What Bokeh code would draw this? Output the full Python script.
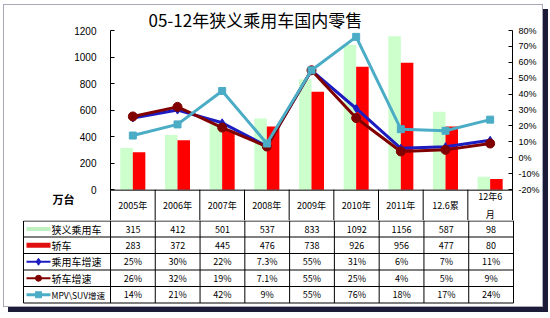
from bokeh.plotting import figure
from bokeh.layouts import column
from bokeh.models import Range1d, LinearAxis, FixedTicker, PrintfTickFormatter
from bokeh.core.properties import value
from bokeh.embed import file_html
from bokeh.resources import INLINE

# ---------------- data ----------------
title_text = "05-12年狭义乘用车国内零售"
unit_text = "万台"
categories = ["2005年", "2006年", "2007年", "2008年", "2009年", "2010年", "2011年", "12.6累", "12年6\n月"]
narrow_pv = [315, 412, 501, 537, 833, 1092, 1156, 587, 98]
sedan = [283, 372, 445, 476, 738, 926, 956, 477, 80]
pv_growth = [25, 30, 22, 7.3, 55, 31, 6, 7, 11]
sedan_growth = [26, 32, 19, 7.1, 55, 25, 4, 5, 9]
mpv_suv_growth = [14, 21, 42, 9, 55, 76, 18, 17, 24]
series_names = ["狭义乘用车", "轿车", "乘用车增速", "轿车增速", "MPV\\SUV增速"]
left_ticks = [0, 200, 400, 600, 800, 1000, 1200]
right_ticks = [-20, -10, 0, 10, 20, 30, 40, 50, 60, 70, 80]

# ---------------- styles / geometry (canvas pixels) ----------------
GREEN = "#CCFFCC"
RED = "#FF0000"
BLUE = "#1C1CC0"
MAROON = "#800000"
TEAL = "#4BACC6"
CJK = "Noto Sans CJK SC"

BOX_L, BOX_T, BOX_R, BOX_B = 4, 5, 542, 306   # inside of the outer chart box
L, R, T, B = 110, 513, 29, 189                 # plot area (value axes)
HEAD_B = 220                                    # bottom of the header row of the data table
n = len(categories)
centers = [i + 0.5 for i in range(n)]


def X(px):
    return (px - L) / (R - L) * n


def YL(py):
    return left_ticks[0] + (B - py) * (left_ticks[-1] - left_ticks[0]) / (B - T)


def YR(py):
    return right_ticks[0] + (B - py) * (right_ticks[-1] - right_ticks[0]) / (B - T)


# ---------------- main chart (with the header row of the table) ----------------
p = figure(width=BOX_R - BOX_L, height=HEAD_B - BOX_T,
           x_range=Range1d(0, n), y_range=Range1d(YL(HEAD_B), left_ticks[-1]),
           output_backend="svg", toolbar_location=None, title=title_text,
           min_border_left=L - BOX_L, min_border_right=BOX_R - R,
           min_border_top=T - BOX_T, min_border_bottom=0, frame_align=False,
           background_fill_color="white", border_fill_color="white", outline_line_color=None)
p.title.align = "left"
p.title.offset = 148 - L
p.title.standoff = -2
p.title.text_font = CJK
p.title.text_font_size = "17px"
p.title.text_font_style = "normal"
p.title.text_color = "black"
p.extra_y_ranges = {"pct": Range1d(YR(HEAD_B), right_ticks[-1])}
p.xgrid.visible = False
p.ygrid.visible = False
p.xaxis.visible = False

ya = p.yaxis[0]
ya.ticker = FixedTicker(ticks=left_ticks)
ya.major_tick_in = 4
ya.major_tick_out = 0
ya.minor_tick_line_color = None
ya.major_label_standoff = 14
ya.major_label_text_font = "Liberation Sans"
ya.major_label_text_font_size = "10px"
ya.major_label_text_color = "black"
ya.axis_line_color = "black"
ya.major_tick_line_color = "black"

# unit label sits beside the value axis, at the height of the table header
unit_tick = round(YL(198))
ua = LinearAxis(ticker=FixedTicker(ticks=[unit_tick]), major_label_overrides={unit_tick: unit_text})
ua.axis_line_color = None
ua.major_tick_line_color = None
ua.minor_tick_line_color = None
ua.major_tick_in = 0
ua.major_tick_out = 0
ua.major_label_standoff = -3
ua.major_label_text_font = CJK
ua.major_label_text_font_size = "11px"
ua.major_label_text_font_style = "bold"
ua.major_label_text_color = "black"
p.add_layout(ua, "left")

ra = LinearAxis(y_range_name="pct", ticker=FixedTicker(ticks=right_ticks),
                formatter=PrintfTickFormatter(format="%d%%"))
ra.major_tick_in = 4
ra.major_tick_out = 0
ra.minor_tick_line_color = None
ra.major_label_standoff = 6
ra.major_label_text_font = "Liberation Sans"
ra.major_label_text_font_size = "9px"
ra.major_label_text_color = "black"
ra.axis_line_color = "black"
ra.major_tick_line_color = "black"
p.add_layout(ra, "right")

bw = 0.28
p.vbar(x=[c - bw / 2 for c in centers], top=narrow_pv, bottom=0, width=bw,
       fill_color=GREEN, line_color=None)
p.vbar(x=[c + bw / 2 for c in centers], top=sedan, bottom=0, width=bw,
       fill_color=RED, line_color=None)

p.line(centers, pv_growth, y_range_name="pct", line_color=BLUE, line_width=3)
p.scatter(centers, pv_growth, y_range_name="pct", marker="diamond", size=8,
          fill_color=BLUE, line_color=BLUE)
p.line(centers, sedan_growth, y_range_name="pct", line_color=MAROON, line_width=3)
p.scatter(centers, sedan_growth, y_range_name="pct", marker="circle", size=9,
          fill_color=MAROON, line_color=MAROON)
p.line(centers, mpv_suv_growth, y_range_name="pct", line_color=TEAL, line_width=3)
p.scatter(centers, mpv_suv_growth, y_range_name="pct", marker="square", size=7,
          fill_color=TEAL, line_color=TEAL)

# header row: category axis line, separators and category names
p.segment(x0=[0], y0=[YL(B + 0.5)], x1=[n], y1=[YL(B + 0.5)], line_color="black", line_width=1)
p.segment(x0=list(range(1, n)), y0=[YL(B)] * (n - 1), x1=list(range(1, n)), y1=[YL(HEAD_B)] * (n - 1),
          line_color="black", line_width=1)
p.text(x=centers, y=[YL(205)] * n, text=categories, text_align="center", text_baseline="middle",
       text_font=value(CJK), text_font_size="9px", text_color="black", text_line_height=1.35)

# ---------------- data table rows ----------------
t = figure(width=BOX_R - BOX_L, height=BOX_B - HEAD_B,
           x_range=Range1d(X(BOX_L), X(BOX_R)), y_range=Range1d(BOX_B, HEAD_B),
           x_axis_type=None, y_axis_type=None, frame_align=False,
           output_backend="svg", toolbar_location=None,
           min_border_left=0, min_border_right=0, min_border_top=0, min_border_bottom=0,
           background_fill_color="white", border_fill_color="white", outline_line_color=None)
t.xgrid.visible = False
t.ygrid.visible = False

row_lines = [220.5, 236.5, 253, 269.5, 286, 302.5]
legend_left = 23
t.segment(x0=list(range(n + 1)), y0=[HEAD_B] * (n + 1), x1=list(range(n + 1)), y1=[row_lines[-1]] * (n + 1),
          line_color="black", line_width=1)
t.segment(x0=[X(legend_left)], y0=[row_lines[0]], x1=[X(legend_left)], y1=[row_lines[-1]],
          line_color="black", line_width=1)
t.segment(x0=[X(legend_left)] * len(row_lines), y0=row_lines, x1=[n] * len(row_lines), y1=row_lines,
          line_color="black", line_width=1)


def fmt_pct(v):
    return f"{v:g}%"


row_values = [
    [str(v) for v in narrow_pv],
    [str(v) for v in sedan],
    [fmt_pct(v) for v in pv_growth],
    [fmt_pct(v) for v in sedan_growth],
    [fmt_pct(v) for v in mpv_suv_growth],
]
row_centers = [(row_lines[i] + row_lines[i + 1]) / 2 for i in range(len(row_values))]
for vals, rc in zip(row_values, row_centers):
    t.text(x=centers, y=[rc] * n, text=vals, text_align="center", text_baseline="middle",
           text_font=value(CJK), text_font_size="9px", text_color="black")

label_sizes = ["10px", "10px", "10px", "10px", "8.5px"]
for name, rc, fs in zip(series_names, row_centers, label_sizes):
    t.text(x=[X(51)], y=[rc], text=[name], text_align="left", text_baseline="middle",
           text_font=value(CJK), text_font_size=fs, text_color="black")

kx0, kx1, kc = X(26), X(50), X(38)
rc = row_centers
t.segment(x0=[kx0], y0=[rc[0]], x1=[kx1], y1=[rc[0]], line_color="#BFF0BF", line_width=4)
t.segment(x0=[kx0], y0=[rc[1]], x1=[kx1], y1=[rc[1]], line_color="#E01010", line_width=5)
t.segment(x0=[kx0], y0=[rc[2]], x1=[kx1], y1=[rc[2]], line_color=BLUE, line_width=2)
t.scatter(x=[kc], y=[rc[2]], marker="diamond", size=7, fill_color=BLUE, line_color=BLUE)
t.segment(x0=[kx0], y0=[rc[3]], x1=[kx1], y1=[rc[3]], line_color=MAROON, line_width=2)
t.scatter(x=[kc], y=[rc[3]], marker="circle", size=6, fill_color=MAROON, line_color=MAROON)
t.segment(x0=[kx0], y0=[rc[4]], x1=[kx1], y1=[rc[4]], line_color=TEAL, line_width=3)
t.scatter(x=[kc], y=[rc[4]], marker="square", size=6, fill_color=TEAL, line_color=TEAL)

layout = column(p, t, spacing=0, margin=(BOX_T - 1, 0, 0, BOX_L - 1),
                styles={"border": "1px solid #a8a8b8", "box-shadow": "5px 5px 0 0 #1b1b38",
                        "background-color": "white"})

open("out.html", "w").write(file_html(layout, INLINE))
